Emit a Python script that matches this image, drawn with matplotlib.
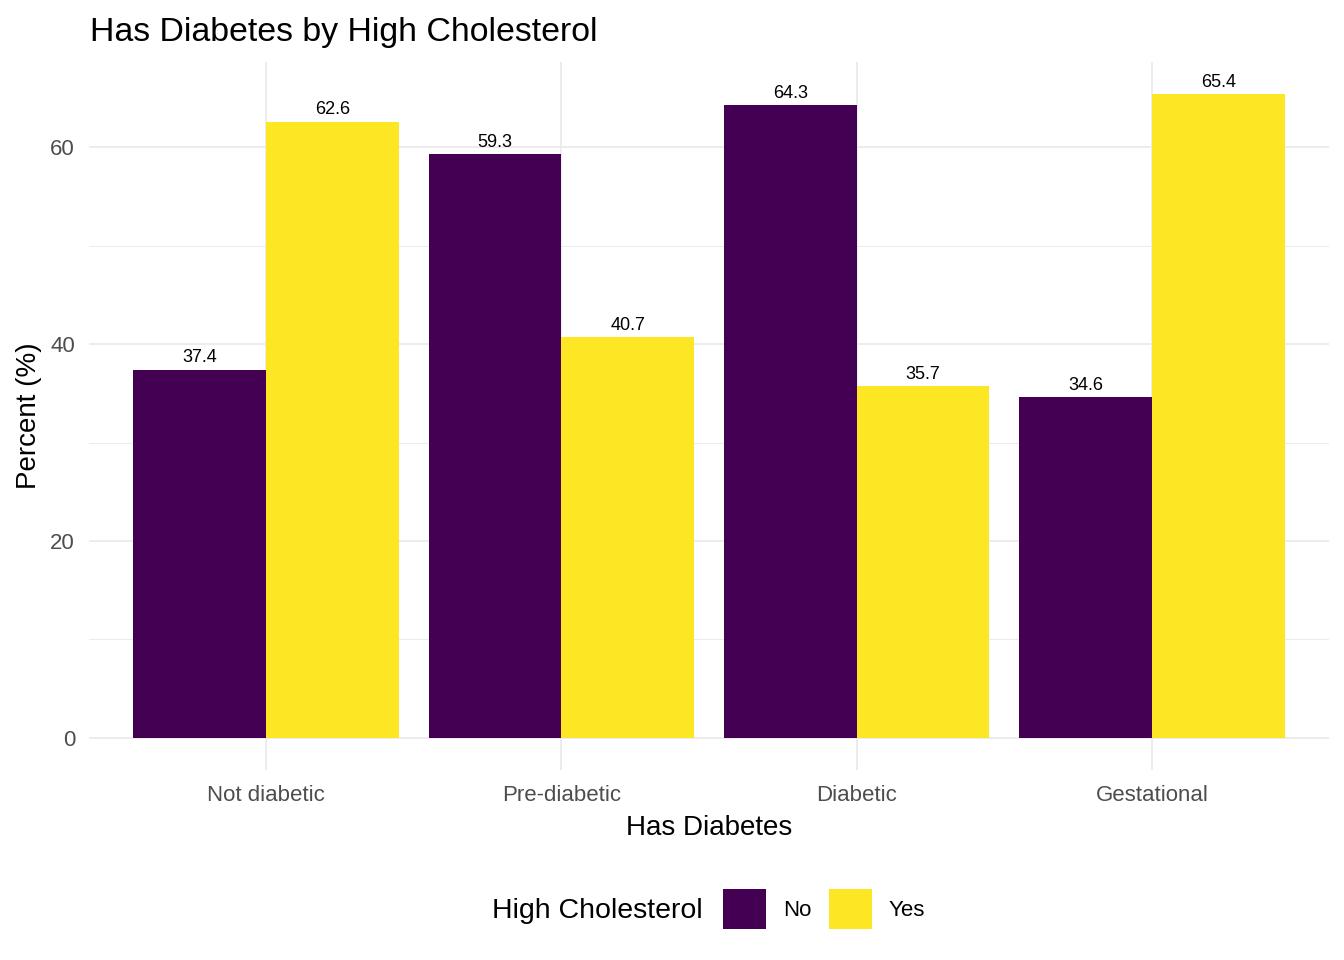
import numpy as np
import matplotlib
matplotlib.use("Agg")
import matplotlib.pyplot as plt

plt.rcParams['font.family'] = ['Liberation Sans', 'DejaVu Sans']

categories = ["Not diabetic", "Pre-diabetic", "Diabetic", "Gestational"]
groups = ["No", "Yes"]
pct_no = [37.4, 59.3, 64.3, 34.6]
pct_yes = [62.6, 40.7, 35.7, 65.4]
colors = ["#440154", "#FDE725"]

fig = plt.figure(figsize=(13.44, 9.6), dpi=100)
ax = fig.add_axes([89 / 1344, 190 / 960, 1240 / 1344, 708 / 960])

x = np.arange(len(categories))
w = 0.45
bars_no = ax.bar(x - w / 2, pct_no, width=w, color=colors[0], label=groups[0], zorder=2)
bars_yes = ax.bar(x + w / 2, pct_yes, width=w, color=colors[1], label=groups[1], zorder=2)
for b in (bars_no, bars_yes):
    ax.bar_label(b, labels=[f"{v:.1f}" for v in b.datavalues], padding=2.5,
                 fontsize=13, color="black")

top = max(max(pct_no), max(pct_yes))
ax.set_xlim(-0.6, len(categories) - 0.4)
ax.set_ylim(-0.05 * top, top * 1.05)
ax.set_xticks(x)
ax.set_xticklabels(categories)
ax.set_yticks([0, 20, 40, 60])
ax.set_yticks([10, 30, 50], minor=True)

ax.grid(True, which="major", color="#EBEBEB", linewidth=1.3, zorder=0)
ax.grid(True, which="minor", axis="y", color="#EBEBEB", linewidth=0.7, zorder=0)
ax.set_axisbelow(True)
for s in ax.spines.values():
    s.set_visible(False)
ax.tick_params(which="both", length=0)
ax.tick_params(axis="x", labelsize=16, labelcolor="#4D4D4D", pad=11)
ax.tick_params(axis="y", labelsize=16, labelcolor="#4D4D4D", pad=10)

ax.set_xlabel("Has Diabetes", fontsize=20, labelpad=6)
ax.set_ylabel("Percent (%)", fontsize=20, labelpad=6)

fig.text(90 / 1344, 1 - 33 / 960, "Has Diabetes by High Cholesterol",
         fontsize=24.4, ha="left", va="center")

fig.text(492 / 1344, 1 - 911 / 960, "High Cholesterol", fontsize=20.5,
         ha="left", va="center")
fig.legend(handles=[bars_no, bars_yes], labels=groups, ncol=2, frameon=False,
           loc="center left", bbox_to_anchor=(723 / 1344, 1 - 909 / 960),
           fontsize=16, handlelength=1.94, handleheight=2.35, handletextpad=0.75,
           columnspacing=0.8, borderpad=0, borderaxespad=0)

fig.savefig("out.png", dpi=100)
